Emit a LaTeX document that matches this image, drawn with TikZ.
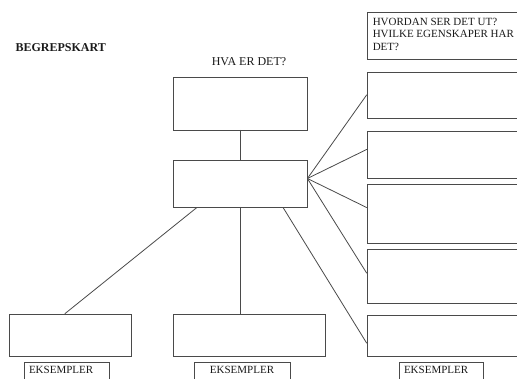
\documentclass[tikz,border=0pt]{standalone}
\usepackage{fontspec}
\setmainfont{Liberation Serif}
\usetikzlibrary{calc}
\definecolor{ink}{HTML}{4A4A4A}
\definecolor{txt}{HTML}{1A1A1A}
\tikzset{
  field/.style={draw=ink, line width=0.8pt, rectangle, inner sep=0pt},
  link/.style={draw=ink, line width=0.8pt, line cap=round},
  lab/.style={text=txt, font=\fontsize{12}{14}\selectfont},
  labs/.style={text=txt, font=\fontsize{11}{12.5}\selectfont},
  ex/.style={draw=ink, line width=0.8pt, anchor=north, inner ysep=3pt,
    text height=8pt, text depth=24pt, text=txt, font=\fontsize{11}{13}\selectfont},
}

\begin{document}
\begin{tikzpicture}[x=1pt,y=-1pt]
  \useasboundingbox (0,0) rectangle (517,379);
  \clip (0,0) rectangle (517,379);
  % centre column
  \node[field, minimum width=134pt, minimum height=53pt] (what) at (240,103.5) {};
  \node[field, minimum width=134pt, minimum height=47pt] (concept) at (240,183.5) {};
  % right column
  \foreach \N/\Y/\H in {head/35.5/47, p1/95/46, p2/154.5/47, p3/213.5/59, p4/276/54, p5/335.5/41}
    \node[field, minimum width=152pt, minimum height=\H pt] (\N) at (443,\Y) {};
  % bottom row
  \node[field, minimum width=122pt, minimum height=42pt] (b1) at (70,335) {};
  \node[field, minimum width=152pt, minimum height=42pt] (b2) at (249,335) {};
  \node[ex, minimum width=85pt, inner xsep=5pt, text width=75pt, align=left] (e1) at (66.5,362) {EKSEMPLER};
  \node[ex, minimum width=96pt, inner xsep=5pt, text width=86pt, align=center] (e2) at (242,362) {EKSEMPLER};
  \node[ex, minimum width=84pt, inner xsep=5pt, text width=74pt, align=left] (e3) at (441,362) {EKSEMPLER};
  % texts
  \node[lab, font={\fontsize{12}{14}\selectfont\bfseries}, anchor=west] (title) at (12,48) {BEGREPSKART};
  \node[lab] (whatq) at (249,62) {HVA ER DET?};
  \node[labs, anchor=north west, align=left, inner sep=0pt] (headtext)
    at ([shift={(6pt,-6pt)}]head.north west) {HVORDAN SER DET UT?\\HVILKE EGENSKAPER HAR\\DET?};
  % connectors
  \coordinate (fan) at ([yshift=5pt]concept.east);
  \draw[link] (what) -- (concept);
  \foreach \N/\S in {p1/0, p2/5, p3/6, p4/3}
    \draw[link] (fan) -- ([yshift=\S pt]\N.west);
  \draw[link] ([xshift=-43pt]concept.south) -- ([xshift=-5pt]b1.north);
  \draw[link] (concept.south) -- ([xshift=-9pt]b2.north);
  \draw[link] ([xshift=43pt]concept.south) -- ([yshift=-7.5pt]p5.west);
\end{tikzpicture}
\end{document}
